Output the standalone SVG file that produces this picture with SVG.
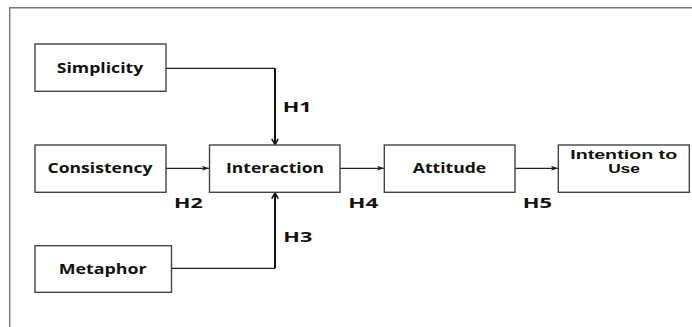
<svg xmlns="http://www.w3.org/2000/svg" width="692" height="327" viewBox="0 0 692 327">
<defs>
<style>
.frame{fill:none;stroke:#7a7a7a;stroke-width:1.4}
.box{fill:#fff;stroke:#444;stroke-width:1.4}
.t{font-family:"Open Sans","Liberation Sans",sans-serif;font-weight:bold;font-size:13.5px;fill:#111;text-anchor:middle}
.t2{font-family:"Liberation Sans",Arial,sans-serif;font-size:12px}
.h{font-family:"Open Sans","Liberation Sans",sans-serif;font-weight:bold;font-size:14px;fill:#111}
.thin{fill:none;stroke:#222;stroke-width:1.3}
.thick{fill:none;stroke:#111;stroke-width:2}
</style>
<marker id="ah" viewBox="0 0 10 10" refX="10" refY="5" markerWidth="7" markerHeight="7" markerUnits="userSpaceOnUse" orient="auto">
<path d="M0,1.5 L10,5 L0,8.5 L2.5,5 Z" fill="#222"/>
</marker>
<marker id="ch" viewBox="0 0 10 10" refX="9" refY="5" markerWidth="8" markerHeight="8" markerUnits="userSpaceOnUse" orient="auto">
<path d="M2,1 L9,5 L2,9" fill="none" stroke="#111" stroke-width="2"/>
</marker>
</defs>
<rect width="692" height="327" fill="#fff"/>
<path class="frame" d="M9.7,340 V7.7 H700"/>
<g id="connectors">
<path class="thin" d="M166,68.3 H275"/>
<path class="thick" d="M275,68.3 V144.5" marker-end="url(#ch)"/>
<path class="thin" d="M171.5,268.3 H275"/>
<path class="thick" d="M275,268.3 V193" marker-end="url(#ch)"/>
<path class="thin" d="M166,168.3 H209" marker-end="url(#ah)"/>
<path class="thin" d="M340,168.3 H384" marker-end="url(#ah)"/>
<path class="thin" d="M515,168.3 H558" marker-end="url(#ah)"/>
</g>
<g id="simplicity">
<rect class="box" x="35" y="44" width="131" height="47.3"/>
<text class="t" x="100" y="73" textLength="86.6" lengthAdjust="spacingAndGlyphs">Simplicity</text>
</g>
<g id="consistency">
<rect class="box" x="35" y="145" width="131" height="47.3"/>
<text class="t" x="100" y="173" textLength="105" lengthAdjust="spacingAndGlyphs">Consistency</text>
</g>
<g id="interaction">
<rect class="box" x="209.5" y="145" width="130.5" height="47.3"/>
<text class="t" x="275" y="173" textLength="98" lengthAdjust="spacingAndGlyphs">Interaction</text>
</g>
<g id="attitude">
<rect class="box" x="384.3" y="145" width="130.7" height="47.3"/>
<text class="t" x="449.5" y="173" textLength="73.3" lengthAdjust="spacingAndGlyphs">Attitude</text>
</g>
<g id="intention">
<rect class="box" x="558.3" y="145" width="131" height="47.3"/>
<text class="t t2" x="623.7" y="159.3" textLength="107" lengthAdjust="spacingAndGlyphs">Intention to</text>
<text class="t t2" x="624" y="173" textLength="31.7" lengthAdjust="spacingAndGlyphs">Use</text>
</g>
<g id="metaphor">
<rect class="box" x="35" y="245.7" width="136.5" height="46.6"/>
<text class="t" x="102.7" y="274.3" textLength="88" lengthAdjust="spacingAndGlyphs">Metaphor</text>
</g>
<g id="labels">
<text class="h" x="282.7" y="111.5" textLength="29" lengthAdjust="spacingAndGlyphs">H1</text>
<text class="h" x="174" y="208.3" textLength="28.7" lengthAdjust="spacingAndGlyphs">H2</text>
<text class="h" x="283.3" y="242.3" textLength="29" lengthAdjust="spacingAndGlyphs">H3</text>
<text class="h" x="348.3" y="208.3" textLength="30" lengthAdjust="spacingAndGlyphs">H4</text>
<text class="h" x="522.7" y="208.3" textLength="29.3" lengthAdjust="spacingAndGlyphs">H5</text>
</g>
</svg>
